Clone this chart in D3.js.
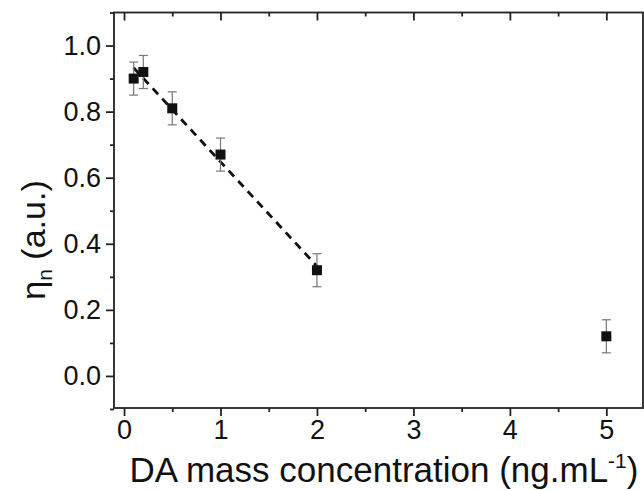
<!DOCTYPE html>
<html>
<head>
<meta charset="utf-8">
<script src="https://cdn.jsdelivr.net/npm/d3@7"></script>
<style>
  body { margin: 0; background: #fff; }
  text { font-family: Arial, "Liberation Sans", sans-serif; fill: #111; }
</style>
</head>
<body>
<svg id="chart"></svg>
<script>
// data
const concentration = [0.1, 0.2, 0.5, 1, 2, 5];
const eta = [0.90, 0.92, 0.81, 0.67, 0.32, 0.12];
const etaErr = [0.05, 0.05, 0.05, 0.05, 0.05, 0.05];
const fitPoints = 5; // first five points are fitted linearly
const xTicks = [0, 1, 2, 3, 4, 5];
const yTicks = [0.0, 0.2, 0.4, 0.6, 0.8, 1.0];

const width = 644, height = 491;
const margin = { top: 12.5, right: 1, bottom: 83, left: 114 };
const w = width - margin.left - margin.right;
const h = height - margin.top - margin.bottom;
const font = 'Arial, "Liberation Sans", sans-serif';

const svg = d3.select('#chart').attr('width', width).attr('height', height);
const g = svg.append('g').attr('transform', `translate(${margin.left},${margin.top})`);

const x = d3.scaleLinear().domain([-0.104, 5.38]).range([0, w]);
const y = d3.scaleLinear().domain([-0.097, 1.1]).range([h, 0]);

const data = concentration.map((c, i) => ({ x: c, y: eta[i], e: etaErr[i] }));

// frame
g.append('rect').attr('width', w).attr('height', h)
  .attr('fill', 'none').attr('stroke', '#222').attr('stroke-width', 1.8);

const minorX = d3.range(0, 5.6, 0.5).filter(v => v % 1 !== 0);
const minorY = d3.range(-0.1, 1.11, 0.1).filter(v => Math.abs((v * 10) % 2) > 0.5);

function styleTicks(a) {
  a.select('.domain').remove();
  a.selectAll('line').attr('stroke', '#222').attr('stroke-width', 1.8);
  a.selectAll('text').attr('font-size', 27).attr('font-family', font).attr('fill', '#111');
}

// bottom axis
g.append('g').attr('transform', `translate(0,${h})`)
  .call(d3.axisBottom(x).tickValues(xTicks).tickSize(8).tickPadding(4).tickFormat(d3.format('d')))
  .call(styleTicks);
g.append('g').attr('transform', `translate(0,${h})`)
  .call(d3.axisBottom(x).tickValues(minorX).tickSize(4).tickFormat(''))
  .call(styleTicks);

// top axis ticks pointing inward
g.append('g')
  .call(d3.axisBottom(x).tickValues(xTicks).tickSize(8).tickFormat(''))
  .call(styleTicks);
g.append('g')
  .call(d3.axisBottom(x).tickValues(minorX).tickSize(4).tickFormat(''))
  .call(styleTicks);

// left axis
g.append('g')
  .call(d3.axisLeft(y).tickValues(yTicks).tickSize(8).tickPadding(5).tickFormat(d3.format('.1f')))
  .call(styleTicks);
g.append('g')
  .call(d3.axisLeft(y).tickValues(minorY).tickSize(4).tickFormat(''))
  .call(styleTicks);

// linear fit of the first points
const fitData = data.slice(0, fitPoints);
const mx = d3.mean(fitData, d => d.x), my = d3.mean(fitData, d => d.y);
const slope = d3.sum(fitData, d => (d.x - mx) * (d.y - my)) / d3.sum(fitData, d => (d.x - mx) ** 2);
const icpt = my - slope * mx;
const fitX = d3.extent(fitData, d => d.x);

g.append('path')
  .datum(fitX.map(v => ({ x: v, y: icpt + slope * v })))
  .attr('d', d3.line().x(d => x(d.x)).y(d => y(d.y)))
  .attr('fill', 'none').attr('stroke', '#111').attr('stroke-width', 2.8)
  .attr('stroke-dasharray', '8,6');

// error bars
const eb = g.append('g').attr('stroke', '#777').attr('stroke-width', 1.2);
eb.selectAll('.stem').data(data).join('line')
  .attr('x1', d => x(d.x)).attr('x2', d => x(d.x))
  .attr('y1', d => y(d.y - d.e)).attr('y2', d => y(d.y + d.e));
eb.selectAll('.capT').data(data).join('line')
  .attr('x1', d => x(d.x) - 4.5).attr('x2', d => x(d.x) + 4.5)
  .attr('y1', d => y(d.y + d.e)).attr('y2', d => y(d.y + d.e));
eb.selectAll('.capB').data(data).join('line')
  .attr('x1', d => x(d.x) - 4.5).attr('x2', d => x(d.x) + 4.5)
  .attr('y1', d => y(d.y - d.e)).attr('y2', d => y(d.y - d.e));

// markers
g.selectAll('.pt').data(data).join('rect')
  .attr('x', d => x(d.x) - 5).attr('y', d => y(d.y) - 5)
  .attr('width', 10).attr('height', 10).attr('fill', '#111');

// titles
const xt = svg.append('text')
  .attr('x', 384).attr('y', 482).attr('text-anchor', 'middle')
  .attr('font-size', 35);
xt.append('tspan').text('DA mass concentration (ng.mL');
xt.append('tspan').attr('dy', -14).attr('font-size', 21).text('-1');
xt.append('tspan').attr('dy', 14).text(')');

const yt = svg.append('text')
  .attr('transform', 'translate(45,240) rotate(-90)')
  .attr('text-anchor', 'middle').attr('font-size', 34);
yt.append('tspan').text('η');
yt.append('tspan').attr('dy', 7).attr('font-size', 21).text('n');
yt.append('tspan').attr('dy', -7).text(' (a.u.)');
</script>
</body>
</html>
